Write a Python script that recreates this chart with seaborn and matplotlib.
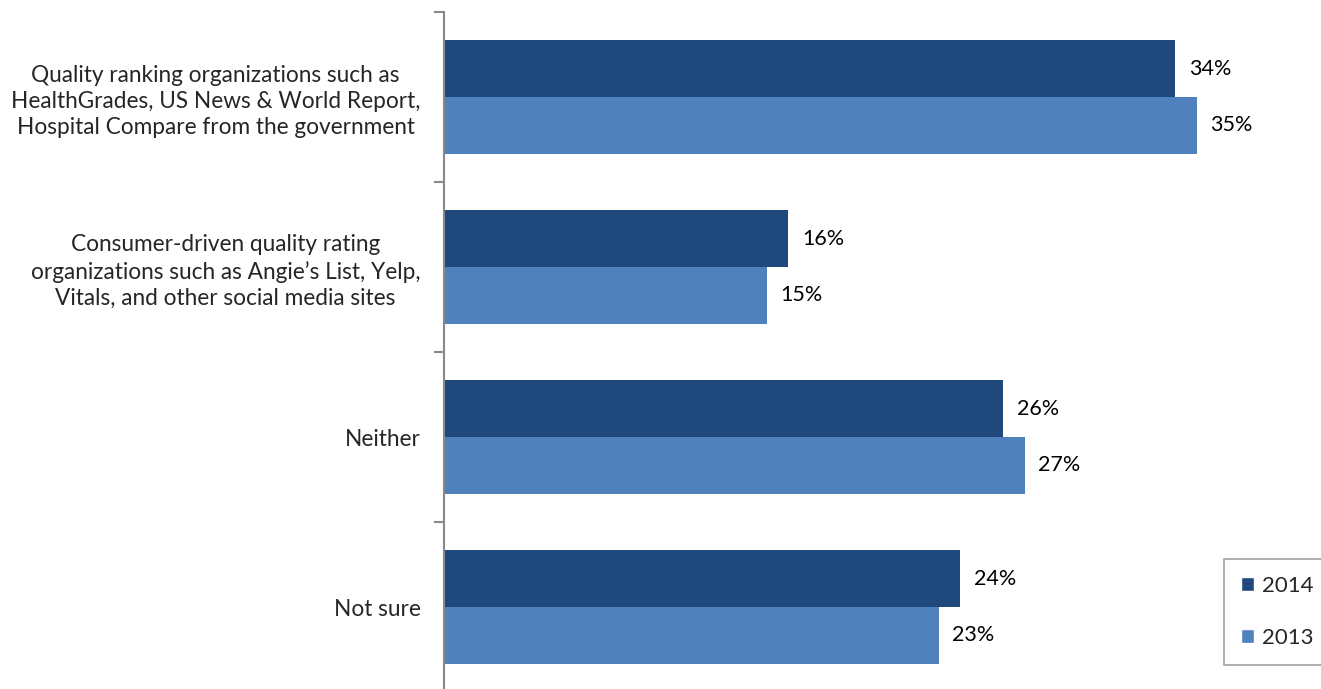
import pandas as pd
import matplotlib.pyplot as plt
import seaborn as sns
from matplotlib.patches import Patch

# chart values
categories = [
    "Quality ranking organizations such as\nHealthGrades, US News & World Report,\nHospital Compare from the government",
    "Consumer-driven quality rating\norganizations such as Angie\u2019s List, Yelp,\nVitals, and other social media sites",
    "Neither",
    "Not sure",
]
years = ["2014", "2013"]
values_2014 = [34, 16, 26, 24]
values_2013 = [35, 15, 27, 23]
colors = {"2014": "#1F497D", "2013": "#4F81BD"}

df = pd.DataFrame({
    "category": categories * 2,
    "year": ["2014"] * 4 + ["2013"] * 4,
    "pct": values_2014 + values_2013,
})

sns.set_style("white")
plt.rcParams['font.family'] = ['Lato', 'DejaVu Sans']

W, H = 1321, 689
fig = plt.figure(figsize=(W / 100, H / 100), dpi=100)
# axes: spine at x=444, top at y=12, 170 px per category
ax = fig.add_axes([444 / W, -3 / H, (W - 444) / W, 680 / H])

sns.barplot(data=df, y="category", x="pct", hue="year", hue_order=years,
            order=categories, palette=colors, orient="h", width=0.665,
            saturation=1, linewidth=0, ax=ax, legend=False)

ax.set_xlim(0, (W - 444) / 21.5)
ax.set_ylim(3.5, -0.5)

for cont in ax.containers:
    ax.bar_label(cont, labels=[f"{v:.0f}%" for v in cont.datavalues],
                 padding=10, fontsize=15.5, color="#000000")

ax.set_xlabel("")
ax.set_ylabel("")
ax.set_xticks([])
ax.tick_params(axis="y", which="major", left=False, length=0, pad=17,
               labelsize=16.3)
ax.set_yticks([-0.5, 0.5, 1.5, 2.5, 3.5], minor=True)
ax.tick_params(axis="y", which="minor", left=True, length=7, width=1.5,
               color="#898989")
for lab in ax.get_yticklabels():
    lab.set_multialignment("center")
    lab.set_linespacing(1.3)

for side in ["top", "right", "bottom"]:
    ax.spines[side].set_visible(False)
ax.spines["left"].set_color("#898989")
ax.spines["left"].set_linewidth(1.5)

handles = [Patch(facecolor=colors[y], label=y) for y in years]
leg = fig.legend(handles=handles, loc="upper left",
                 bbox_to_anchor=(1224 / W, 1 - 559 / H), borderaxespad=0,
                 fontsize=16, handlelength=0.6, handleheight=0.6,
                 handletextpad=0.35, labelspacing=1.45, borderpad=0.75,
                 frameon=True, fancybox=False)
leg.get_frame().set_edgecolor("#898989")
leg.get_frame().set_linewidth(1.2)

fig.savefig("out.png", dpi=100)
